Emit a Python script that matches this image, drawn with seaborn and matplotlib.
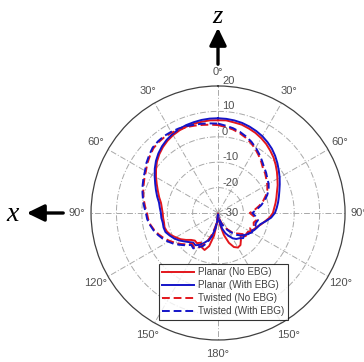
import numpy as np
import pandas as pd
import matplotlib
matplotlib.use("Agg")
import matplotlib.pyplot as plt
import matplotlib.transforms as mtransforms
import seaborn as sns

# angle from z axis, clockwise (deg); 90 = right, 270 = left (x side)
theta_deg = list(range(0, 360, 5))

planar_no_ebg = [6.5, 6.6, 6.2, 6.0, 5.4, 4.8, 4.0, 3.1, 2.0, 0.9, -0.4, -1.7,
                 -3.0, -4.1, -5.3, -6.2, -7.0, -7.8, -8.4, -9.6, -11.2, -12.5, -13.8, -14.6,
                 -15.4, -16.2, -15.8, -17.4, -16.0, -14.6, -14.3, -15.2, -17.5, -21.0, -25.0, -28.5,
                 -29.5, -26.5, -21.0, -16.5, -14.5, -15.0, -16.5, -15.5, -15.8, -15.0, -13.5, -12.0,
                 -10.8, -9.5, -8.6, -8.2, -8.4, -8.3, -8.2, -7.8, -7.2, -6.0, -4.8, -3.4,
                 -1.8, -0.2, 1.4, 2.7, 3.8, 4.7, 5.4, 5.9, 6.2, 6.4, 6.5, 6.6]
planar_with_ebg = [7.3, 7.2, 7.0, 6.7, 6.2, 5.6, 4.9, 4.0, 3.0, 1.8, 0.5, -0.8,
                   -2.0, -3.2, -4.3, -5.2, -6.0, -6.8, -7.6, -9.0, -11.0, -12.8, -13.5, -14.2,
                   -15.0, -15.5, -16.5, -16.0, -17.0, -17.5, -18.5, -20.0, -21.5, -23.5, -26.0, -28.5,
                   -29.5, -27.0, -23.5, -20.5, -18.5, -17.0, -15.5, -14.5, -14.8, -13.8, -12.6, -11.2,
                   -10.0, -9.0, -8.0, -7.8, -7.9, -7.6, -7.5, -7.0, -6.4, -5.2, -4.0, -2.7,
                   -1.2, 0.4, 1.9, 3.2, 4.3, 5.2, 5.9, 6.4, 6.8, 7.0, 7.2, 7.3]
twisted_no_ebg = [4.6, 4.0, 3.4, 2.6, 1.6, 0.5, -0.8, -2.2, -3.6, -5.0, -5.8, -6.8,
                  -7.6, -8.6, -10.0, -11.6, -13.5, -15.5, -17.5, -16.0, -14.5, -15.5, -15.0, -16.0,
                  -15.2, -16.8, -17.0, -18.5, -19.5, -21.0, -22.5, -24.0, -25.5, -27.0, -28.5, -29.5,
                  -29.8, -28.0, -25.0, -21.5, -18.5, -16.0, -14.0, -13.5, -14.2, -12.5, -11.0, -9.5,
                  -8.0, -6.5, -5.2, -4.0, -3.0, -2.4, -2.0, -1.2, -0.3, 0.5, 1.2, 2.0,
                  2.8, 4.0, 5.0, 6.0, 6.4, 6.6, 6.5, 6.3, 6.0, 5.6, 5.2, 4.9]
twisted_with_ebg = [5.2, 4.5, 3.9, 3.1, 2.1, 1.0, -0.3, -1.7, -3.1, -4.4, -5.3, -6.3,
                    -7.0, -8.0, -9.4, -11.0, -12.8, -14.8, -16.5, -15.2, -14.0, -14.6, -14.4, -15.0,
                    -14.6, -15.8, -16.5, -17.5, -18.8, -20.5, -22.0, -23.5, -25.0, -26.5, -28.0, -29.0,
                    -29.5, -27.5, -24.0, -20.5, -17.5, -15.5, -14.5, -13.0, -13.6, -12.0, -10.5, -8.8,
                    -7.4, -6.0, -4.8, -3.7, -2.8, -2.0, -1.6, -0.8, 0.0, 0.8, 1.6, 2.4,
                    3.2, 4.4, 5.4, 6.4, 6.8, 7.0, 6.9, 6.7, 6.4, 6.0, 5.7, 5.4]

series_names = ["Planar (No EBG)", "Planar (With EBG)", "Twisted (No EBG)", "Twisted (With EBG)"]
series_values = [planar_no_ebg, planar_with_ebg, twisted_no_ebg, twisted_with_ebg]
series_colors = ["#e3161c", "#1414c8", "#e3161c", "#1414c8"]
series_styles = ["-", "-", "--", "--"]

r_ticks = [-30, -20, -10, 0, 10, 20]
angle_ticks = list(range(0, 360, 30))
angle_labels = ["0°", "30°", "60°", "90°", "120°", "150°", "180°", "150°", "120°", "90°", "60°", "30°"]

# long-form table, closing each curve back at 0 deg
rows = []
for name, vals in zip(series_names, series_values):
    for t, v in zip(theta_deg + [360], vals + [vals[0]]):
        rows.append({"theta": np.deg2rad(t), "gain": v, "series": name})
df = pd.DataFrame(rows)

plt.rcParams["font.family"] = ["Liberation Sans", "DejaVu Sans"]
fig = plt.figure(figsize=(3.64, 3.62), dpi=100)
ax = fig.add_axes([0.25, 0.0608, 0.698, 0.7017], projection="polar")
ax.set_theta_zero_location("N")
ax.set_theta_direction(-1)
ax.set_ylim(-30, 20)

grid_kw = dict(color="#a8a8a8", lw=0.7, ls=(0, (6, 2, 1, 2)))
ax.grid(False)
ax.set_xticks([])
ax.set_yticks([])
th = np.linspace(0, 2 * np.pi, 400)
for r in r_ticks[1:-1]:
    ax.plot(th, np.full_like(th, r), **grid_kw, zorder=1)
for a in angle_ticks:
    ax.plot([np.deg2rad(a)] * 2, [-30, 20], **grid_kw, zorder=1)
ax.spines["polar"].set_color("#404040")
ax.spines["polar"].set_linewidth(0.9)

for name, col, ls in zip(series_names, series_colors, series_styles):
    sub = df[df["series"] == name]
    sns.lineplot(data=sub, x="theta", y="gain", ax=ax, color=col, lw=1.4,
                 sort=False, estimator=None, label=name, zorder=3)
    ax.lines[-1].set_linestyle(ls if ls == "-" else (0, (4, 2)))
ax.set_xlabel("")
ax.set_ylabel("")

# angle labels outside the circle
for a, lab in zip(angle_ticks, angle_labels):
    ax.text(np.deg2rad(a), 25.5, lab, ha="center", va="center", fontsize=8,
            color="#505050", clip_on=False)

# radial labels just right of the vertical axis
off = mtransforms.ScaledTranslation(4 / 100, 0, fig.dpi_scale_trans)
for r in r_ticks:
    ax.text(0, r, str(r), ha="left", va="bottom" if r > -30 else "center",
            fontsize=8, color="#505050", transform=ax.transData + off)

leg = ax.legend(loc="upper left", bbox_to_anchor=(154 / 364, 1 - 259 / 362),
                bbox_transform=fig.transFigure, fontsize=7.1, frameon=True,
                fancybox=False, handlelength=3.2, borderpad=0.35, labelspacing=0.3,
                handletextpad=0.4)
leg.get_frame().set_edgecolor("black")
leg.get_frame().set_linewidth(0.8)
for t in leg.get_texts():
    t.set_color("#404040")

# axis arrows
fig.patches.append(matplotlib.patches.FancyArrowPatch(
    (218 / 364, 1 - 67 / 362), (218 / 364, 1 - 25 / 362), transform=fig.transFigure,
    arrowstyle="-|>,head_length=3.5,head_width=1.7", lw=2.4, color="black", mutation_scale=3))
fig.patches.append(matplotlib.patches.FancyArrowPatch(
    (66 / 364, 1 - 213 / 362), (24 / 364, 1 - 213 / 362), transform=fig.transFigure,
    arrowstyle="-|>,head_length=3.5,head_width=1.7", lw=2.4, color="black", mutation_scale=3))
fig.text(217 / 364, 1 - 17 / 362, "z", fontsize=19, style="italic",
         family="Liberation Serif", ha="center", va="center")
fig.text(13 / 364, 1 - 214 / 362, "x", fontsize=20, style="italic",
         family="Liberation Serif", ha="center", va="center")

fig.savefig("out.png", dpi=100)
